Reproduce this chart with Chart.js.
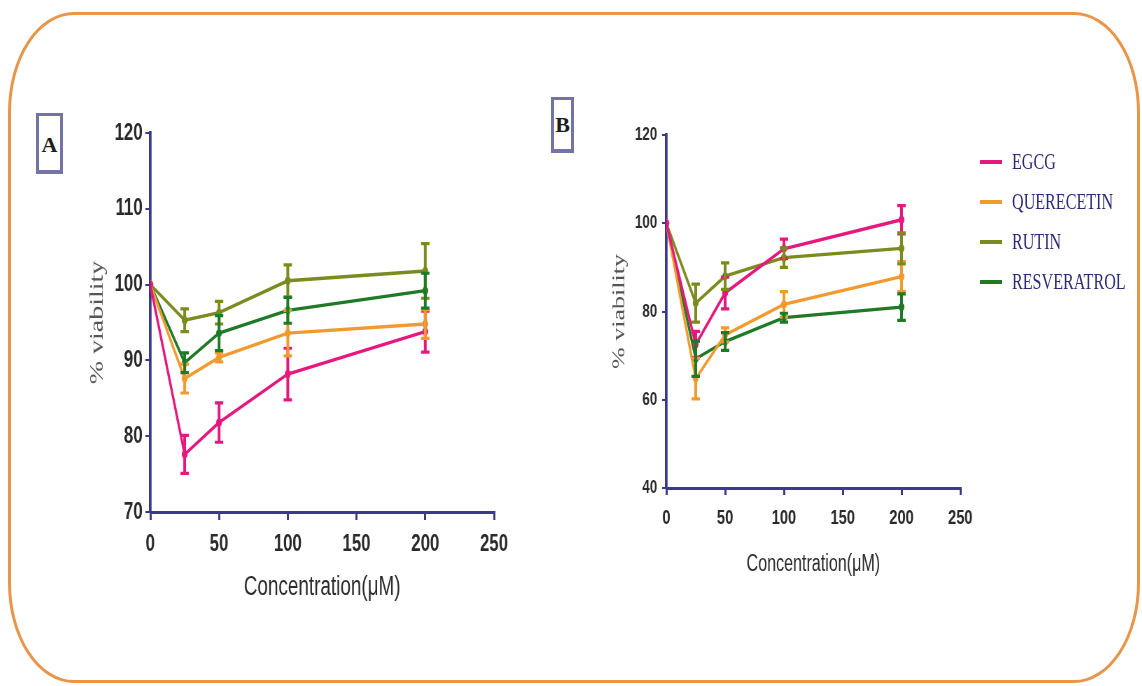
<!DOCTYPE html>
<html>
<head>
<meta charset="utf-8">
<script src="https://cdn.jsdelivr.net/npm/chart.js@4.4.1/dist/chart.umd.min.js"></script>
<style>
  html, body { margin: 0; padding: 0; background: #ffffff; width: 1142px; height: 686px; overflow: hidden; position: relative; }
  #frame { position: absolute; left: 8px; top: 12px; width: 1132px; height: 671px; border: 3px solid #E8964A; border-radius: 66px / 100px; box-sizing: border-box; }
  .wrap { position: absolute; transform-origin: 0 0; transform: scaleX(0.7); }
  .panel { position: absolute; border: 3px solid #7474a4; border-bottom-width: 4px; box-sizing: border-box; background: #fff;
           font-family: "Liberation Serif", "DejaVu Serif", serif; font-weight: bold; color: #1d1d1d; text-align: center; }
  #legend { position: absolute; left: 980px; top: 142px; }
  .item { position: relative; height: 40px; }
  .item .sw { position: absolute; left: 0; top: 18px; width: 22px; height: 4px; }
  .item .tx { position: absolute; left: 32px; top: 6px; white-space: nowrap; transform-origin: 0 50%; transform: scaleX(0.7);
              font-family: "Liberation Serif", "DejaVu Serif", serif; font-size: 23px; line-height: 28px; color: #2b2b78; }
</style>
</head>
<body>
<div id="frame"></div>
<div class="panel" style="left:36px; top:113px; width:27px; height:61px; font-size:22px; line-height:58px;">A</div>
<div class="panel" style="left:551px; top:97px; width:23px; height:56px; font-size:22px; line-height:50px;">B</div>
<div class="wrap" id="wA" style="left:60px; top:110px;"><canvas id="cA" width="657" height="510"></canvas></div>
<div class="wrap" id="wB" style="left:590px; top:110px;"><canvas id="cB" width="564" height="490"></canvas></div>
<div id="legend"></div>
<script>
// ---- data ----
const concentrations = [0, 25, 50, 100, 200];
const seriesNames = ["EGCG", "QUERECETIN", "RUTIN", "RESVERATROL"];
const seriesColors = ["#E5197D", "#F39A2E", "#7C8B1E", "#1E7A26"];

// Panel A
const egcgA = [100, 77.6, 81.8, 88.2, 93.8];
const egcgAErr = [0, 2.5, 2.6, 3.4, 2.7];
const quercetinA = [100, 87.6, 90.4, 93.6, 94.8];
const quercetinAErr = [0, 1.9, 0.6, 3.0, 1.9];
const rutinA = [100, 95.3, 96.3, 100.5, 101.8];
const rutinAErr = [0, 1.5, 1.5, 2.1, 3.6];
const resveratrolA = [100, 89.7, 93.6, 96.6, 99.2];
const resveratrolAErr = [0, 1.3, 2.3, 1.7, 2.3];

// Panel B
const egcgB = [100, 72.5, 84.2, 94.2, 100.8];
const egcgBErr = [0, 3.0, 3.6, 2.2, 3.2];
const quercetinB = [100, 64.8, 74.7, 81.6, 87.9];
const quercetinBErr = [0, 4.6, 1.6, 2.9, 3.4];
const rutinB = [100, 81.9, 88.0, 92.2, 94.3];
const rutinBErr = [0, 4.3, 3.0, 2.2, 3.5];
const resveratrolB = [100, 69.3, 73.2, 78.6, 81.0];
const resveratrolBErr = [0, 4.0, 2.0, 1.0, 3.0];

// tick labels
const xTicks = [0, 50, 100, 150, 200, 250];
const yTicksA = [70, 80, 90, 100, 110, 120];
const yTicksB = [40, 60, 80, 100, 120];

const yTitle = "% viability";
const xTitle = "Concentration(\u03BCM)";

// ---- build ----
const AXIS = "#3a3a8a";
const TICKTXT = "#2a2a2a";
const SANS = "'Liberation Sans', Arial, sans-serif";
const SERIF = "'Liberation Serif', 'Times New Roman', serif";

const errorBars = {
  id: "errorBars",
  afterDatasetsDraw(chart) {
    const ctx = chart.ctx;
    const ys = chart.scales.y;
    chart.data.datasets.forEach((ds, di) => {
      const meta = chart.getDatasetMeta(di);
      ctx.save();
      ctx.strokeStyle = ds.borderColor;
      ds.errors.forEach((e, i) => {
        if (!e) return;
        const x = meta.data[i].x;
        const v = ds.data[i].y;
        const yt = ys.getPixelForValue(v + e);
        const yb = ys.getPixelForValue(v - e);
        ctx.lineWidth = 4;
        ctx.beginPath(); ctx.moveTo(x, yt); ctx.lineTo(x, yb); ctx.stroke();
        ctx.lineWidth = 3.2;
        ctx.beginPath();
        ctx.moveTo(x - 6, yt); ctx.lineTo(x + 6, yt);
        ctx.moveTo(x - 6, yb); ctx.lineTo(x + 6, yb);
        ctx.stroke();
      });
      ctx.restore();
    });
  }
};

function mkDatasets(vals, errs) {
  return vals.map((arr, k) => ({
    label: seriesNames[k],
    data: concentrations.map((c, i) => ({ x: c, y: arr[i] })),
    errors: errs[k],
    borderColor: seriesColors[k],
    backgroundColor: seriesColors[k],
    borderWidth: 3.4,
    pointRadius: 2.5,
    pointHoverRadius: 2.5,
    tension: 0
  }));
}

function mkChart(id, cfg) {
  return new Chart(document.getElementById(id), {
    type: "line",
    data: { datasets: mkDatasets(cfg.vals, cfg.errs) },
    plugins: [errorBars],
    options: {
      responsive: false,
      animation: false,
      layout: { padding: { top: cfg.padTop, right: cfg.padRight, left: 0, bottom: 0 } },
      plugins: { legend: { display: false }, tooltip: { enabled: false } },
      scales: {
        x: {
          type: "linear", min: 0, max: 250,
          afterBuildTicks: (s) => { s.ticks = xTicks.map(v => ({ value: v })); },
          afterFit: (s) => { s.height = cfg.xHeight; },
          border: { display: true, color: AXIS, width: 3 },
          grid: { display: true, drawOnChartArea: false, drawTicks: true, tickLength: cfg.xTickLen, color: AXIS, lineWidth: 3 },
          ticks: { color: TICKTXT, font: { family: SANS, size: cfg.xTickSize, weight: "bold" }, padding: cfg.xTickPad, maxRotation: 0, autoSkip: false },
          title: { display: true, text: xTitle, color: "#2a2a2a", font: { family: SANS, size: cfg.xTitleSize }, padding: { top: 0, bottom: cfg.xTitlePad } }
        },
        y: {
          type: "linear", min: cfg.yMin, max: cfg.yMax,
          afterBuildTicks: (s) => { s.ticks = cfg.yTicks.map(v => ({ value: v })); },
          afterFit: (s) => { s.width = cfg.yWidth; },
          border: { display: true, color: AXIS, width: 3.8 },
          grid: { display: true, drawOnChartArea: false, drawTicks: true, tickLength: cfg.yTickLen, color: AXIS, lineWidth: 2 },
          ticks: { color: TICKTXT, font: { family: SANS, size: cfg.yTickSize, weight: "bold" }, padding: cfg.yTickPad, autoSkip: false },
          title: { display: true, text: yTitle, color: "#555555", font: { family: SERIF, size: cfg.yTitleSize }, padding: { top: cfg.yTitlePad, bottom: 0 } }
        }
      }
    }
  });
}

mkChart("cA", {
  vals: [egcgA, quercetinA, rutinA, resveratrolA],
  errs: [egcgAErr, quercetinAErr, rutinAErr, resveratrolAErr],
  yMin: 70, yMax: 120, yTicks: yTicksA,
  padTop: 23, padRight: 37, yWidth: 129, xHeight: 108,
  xTickLen: 8, xTickPad: 10, xTickSize: 24, xTitleSize: 27, xTitlePad: 16,
  yTickLen: 7, yTickPad: 4, yTickSize: 24, yTitleSize: 28, yTitlePad: 37
});

mkChart("cB", {
  vals: [egcgB, quercetinB, rutinB, resveratrolB],
  errs: [egcgBErr, quercetinBErr, rutinBErr, resveratrolBErr],
  yMin: 40, yMax: 120, yTicks: yTicksB,
  padTop: 25, padRight: 35, yWidth: 109, xHeight: 112,
  xTickLen: 7, xTickPad: 11, xTickSize: 21, xTitleSize: 23, xTitlePad: 22,
  yTickLen: 6, yTickPad: 7, yTickSize: 19, yTitleSize: 26, yTitlePad: 27
});

// legend
const lg = document.getElementById("legend");
seriesNames.forEach((n, k) => {
  const it = document.createElement("div");
  it.className = "item";
  it.innerHTML = '<div class="sw" style="background:' + seriesColors[k] + '"></div><div class="tx">' + n + '</div>';
  lg.appendChild(it);
});
</script>
</body>
</html>
